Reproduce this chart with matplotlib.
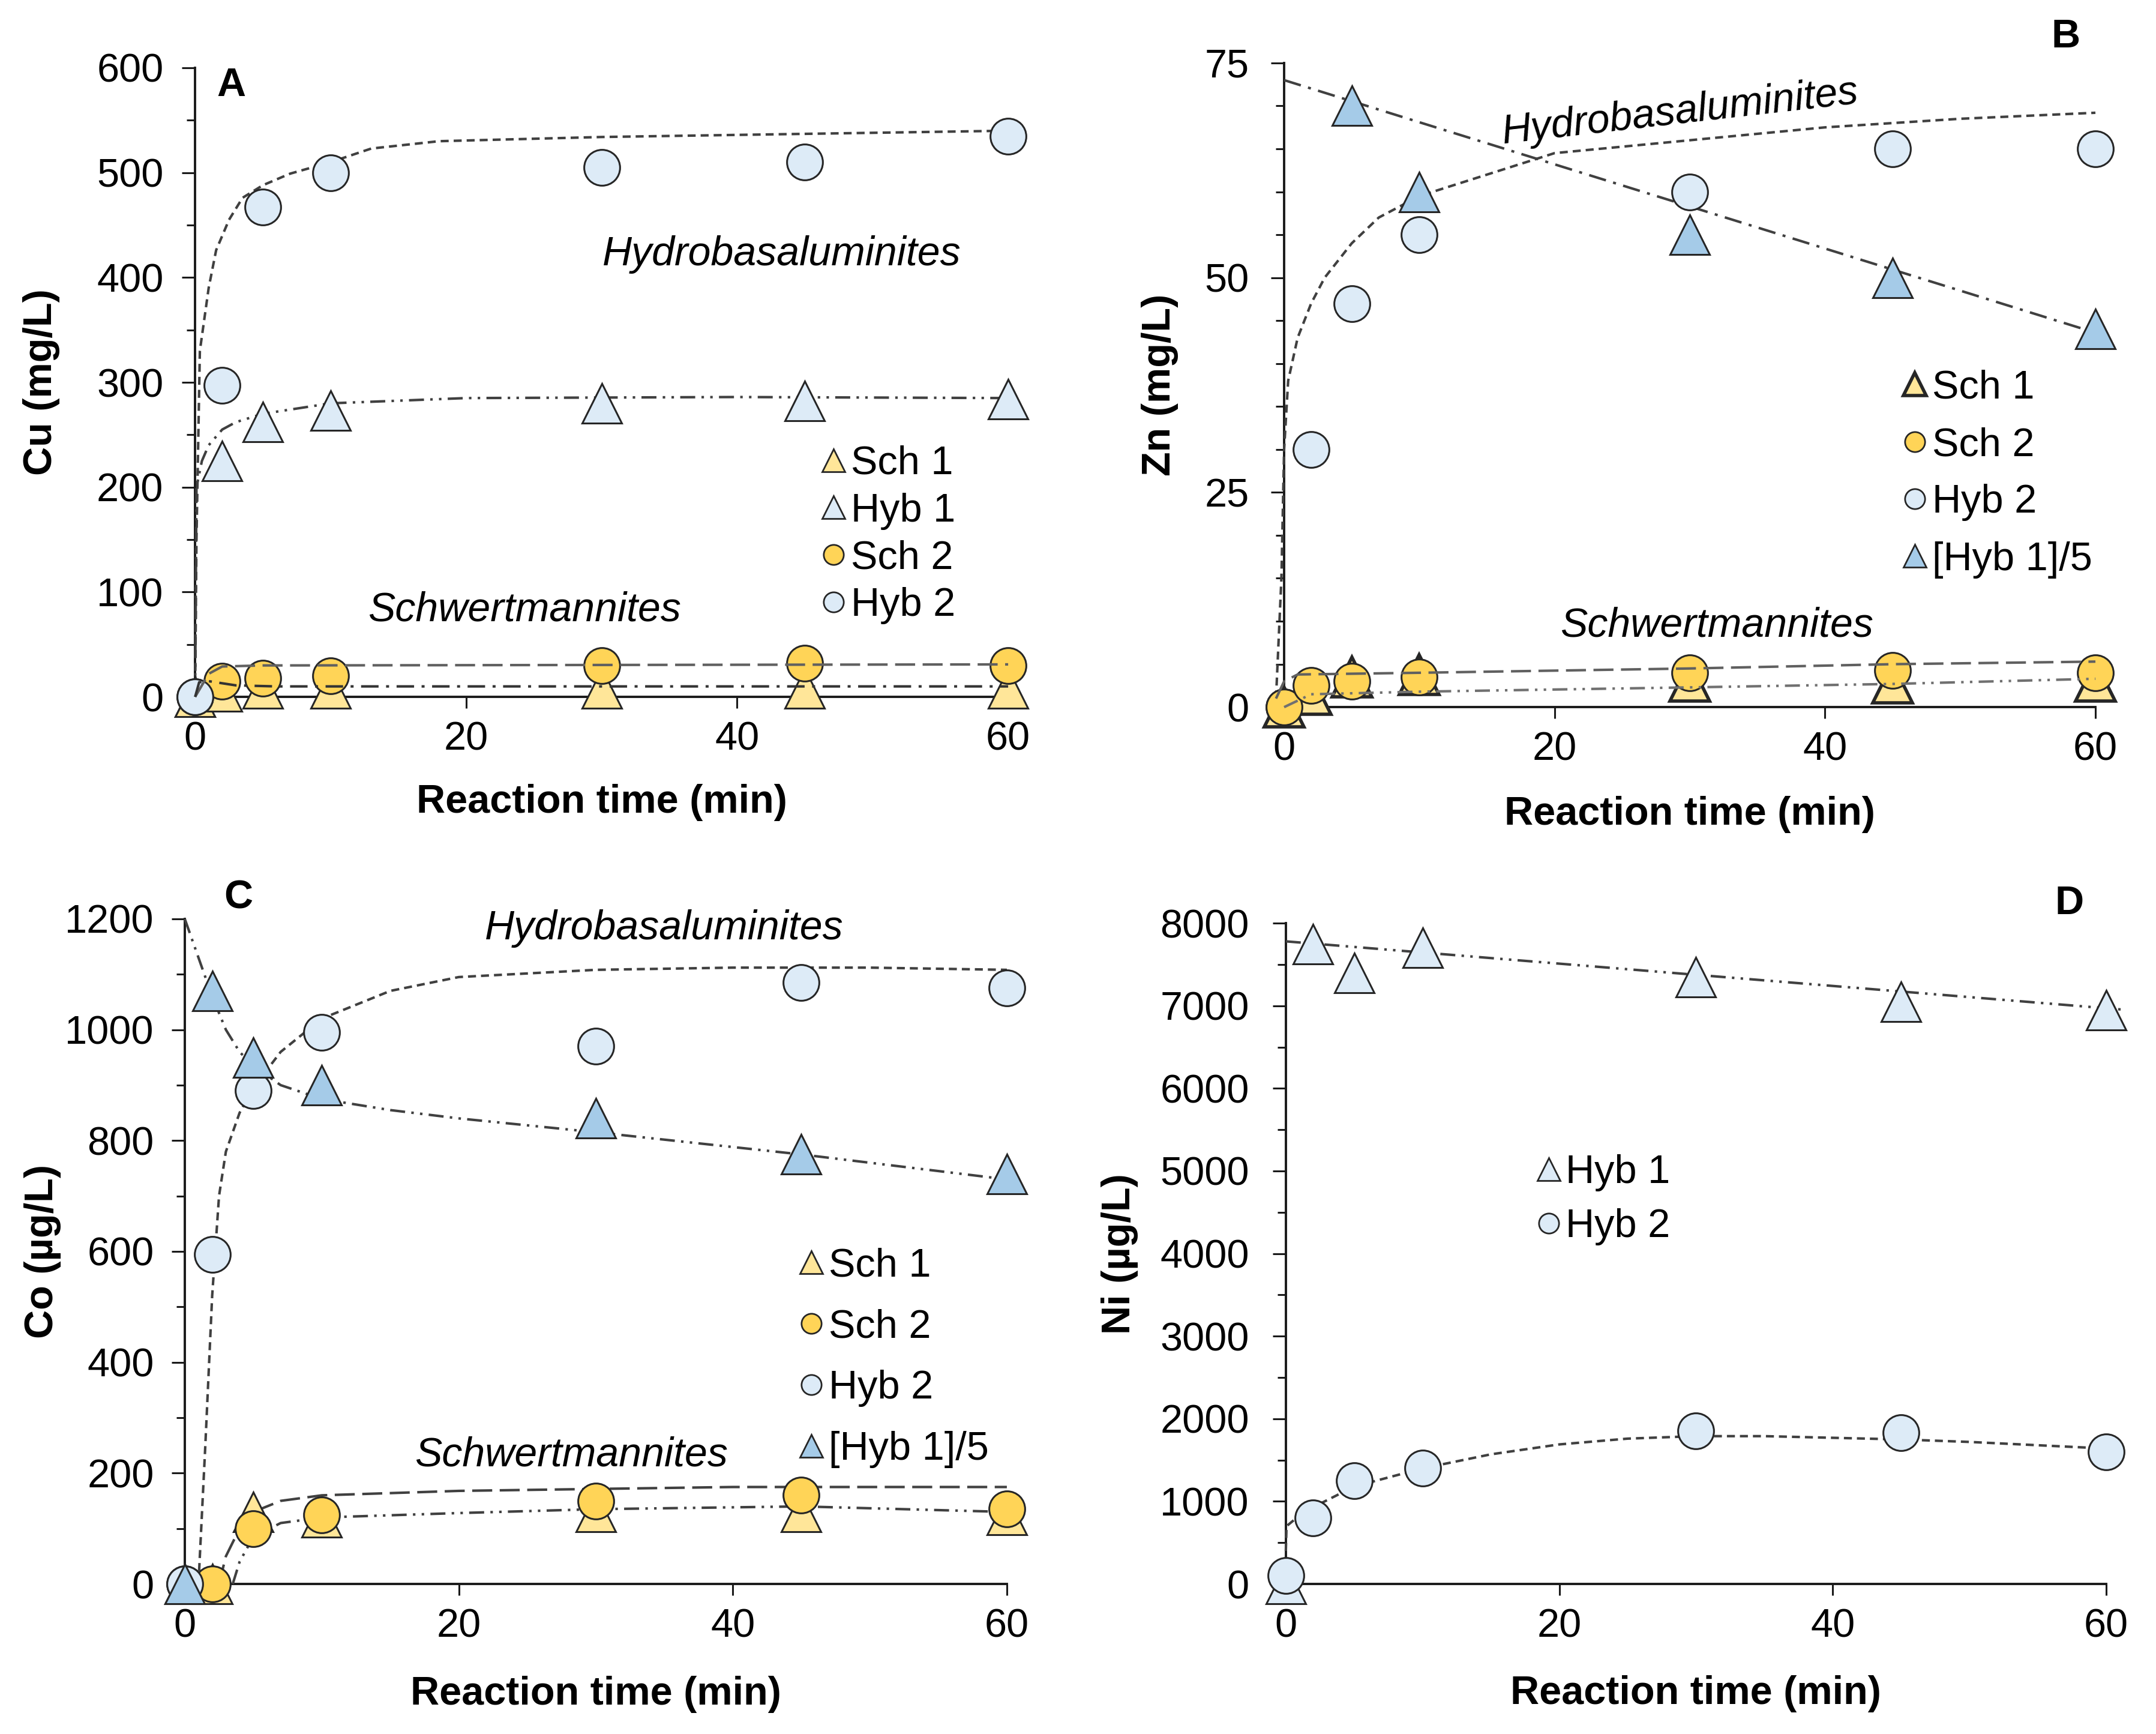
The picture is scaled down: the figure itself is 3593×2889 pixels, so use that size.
import numpy as np
import matplotlib
matplotlib.use("Agg")
import matplotlib.pyplot as plt
from matplotlib.lines import Line2D
from matplotlib.ticker import MultipleLocator

plt.rcParams['font.family'] = ['Liberation Sans', 'DejaVu Sans']

# sampling times (min)
time = [0, 2, 5, 10, 30, 45, 60]

# --- A: Cu (mg/L) ---
cu_sch1 = [0, 5, 8, 8, 8, 8, 8]
cu_hyb1 = [0, 225, 262, 273, 280, 282, 284]
cu_sch2 = [0, 15, 18, 20, 30, 32, 30]
cu_hyb2 = [0, 297, 467, 500, 505, 510, 535]
# trend lines
cu_hyb2_fit_t = [0, 0.1, 0.35, 1, 1.55, 2.5, 3.5, 5, 7, 10, 13, 18, 30, 45, 60]
cu_hyb2_fit = [0, 150, 330, 390, 426, 455, 476, 488, 499, 510, 523, 530, 534, 537, 540]
cu_hyb1_fit_t = [0, 0.1, 0.5, 1, 2, 3, 5, 10, 20, 40, 60]
cu_hyb1_fit = [0, 200, 225, 240, 255, 262, 270, 280, 285, 286, 285]
cu_sch2_fit_t = [0, 1, 2, 5, 60]
cu_sch2_fit = [0, 22, 29, 30, 31]
cu_sch1_fit_t = [0, 0.3, 1, 3, 6, 60]
cu_sch1_fit = [0, 14, 15, 11, 10, 10]

# --- B: Zn (mg/L) ---
zn_sch1 = [0, 1.5, 3.5, 3.8, 3.0, 2.8, 3.0]
zn_sch2 = [0, 2.5, 3.0, 3.5, 4.0, 4.3, 4.0]
zn_hyb2 = [0, 30, 47, 55, 60, 65, 65]
zn_hyb1_5 = [0, np.nan, 70, 60, 55, 50, 44]
zn_hyb1_fit_t = [0, 61]
zn_hyb1_fit = [73, 43.1]
zn_hyb2_fit_t = [-0.6, -0.2, 0, 0.3, 1, 2, 3, 5, 7, 10, 15, 20, 30, 40, 50, 60]
zn_hyb2_fit = [1, 15, 30, 38, 43, 47, 50, 54, 57, 59.5, 62, 64.5, 66, 67.5, 68.5, 69.2]
zn_sch2_fit_t = [-0.6, 0, 1, 10, 30, 45, 60]
zn_sch2_fit = [1, 3, 3.8, 4, 4.5, 5, 5.3]
zn_sch1_fit_t = [0, 2, 10, 30, 45, 60]
zn_sch1_fit = [0, 1.5, 1.8, 2.3, 2.7, 3.3]

# --- C: Co (ug/L) ---
co_sch1 = [0, 0, 130, 120, 130, 130, 125]
co_sch2 = [0, 0, 100, 125, 150, 160, 135]
co_hyb2 = [0, 595, 890, 995, 970, 1085, 1075]
co_hyb1_5 = [0, 1070, 950, 900, 840, 775, 740]
co_hyb1_fit_t = [0, 1, 2, 3, 4, 5, 7, 10, 15, 20, 30, 45, 60]
co_hyb1_fit = [1200, 1130, 1060, 1000, 960, 935, 900, 875, 855, 840, 815, 775, 730]
co_hyb2_fit_t = [1, 1.5, 2, 2.5, 3, 4, 5, 7, 10, 15, 20, 30, 40, 50, 60]
co_hyb2_fit = [0, 250, 520, 700, 780, 850, 895, 960, 1020, 1070, 1095, 1108, 1112, 1112, 1108]
co_sch2_fit_t = [2.5, 3, 4, 5, 7, 10, 20, 40, 60]
co_sch2_fit = [0, 50, 100, 130, 150, 160, 168, 175, 175]
co_sch1_fit_t = [3.5, 4, 5, 7, 10, 20, 30, 45, 60]
co_sch1_fit = [0, 40, 85, 110, 120, 128, 135, 140, 130]

# --- D: Ni (ug/L) ---
ni_hyb1 = [0, 7750, 7400, 7700, 7350, 7050, 6950]
ni_hyb2 = [100, 800, 1250, 1400, 1850, 1830, 1600]
ni_hyb1_fit_t = [0, 61.5]
ni_hyb1_fit = [7780, 6950]
ni_hyb2_fit_t = [0, 0.05, 1, 2, 5, 10, 15, 20, 25, 30, 35, 40, 45, 50, 60]
ni_hyb2_fit = [400, 700, 830, 930, 1180, 1400, 1570, 1690, 1760, 1790, 1790, 1770, 1750, 1720, 1640]

SCH1 = '#FFE699'
SCH2 = '#FFD457'
HYB = '#DDEBF7'
HYB5 = '#A5CBE8'
EDGE = '#262626'

SHORT = (0, (3.2, 2))
LONG = (0, (8, 3))
DASHDOT = (0, (7, 3, 1.2, 3))
DASHDOTDOT = (0, (6, 2.5, 1, 2.5, 1, 2.5))

FS = 48


def pts(ax, y, marker, face, size=43, mew=2.2, z=5):
    ax.plot(time, y, ls='none', marker=marker, ms=size, mfc=face, mec=EDGE,
            mew=mew, zorder=z, clip_on=False)


def fit(ax, t, y, ls, color='#404040', lw=3, z=4):
    ax.plot(t, y, ls=ls, color=color, lw=lw, zorder=z, clip_on=False)


def style(ax, ymax, major, minor, ylabel, ylab_x, ypad):
    ax.set_xlim(0, 60)
    ax.set_ylim(0, ymax)
    ax.xaxis.set_major_locator(MultipleLocator(20))
    ax.yaxis.set_major_locator(MultipleLocator(major))
    ax.yaxis.set_minor_locator(MultipleLocator(minor))
    for s in ['top', 'right']:
        ax.spines[s].set_visible(False)
    for s in ['left', 'bottom']:
        ax.spines[s].set_linewidth(2.8)
        ax.spines[s].set_color('#1a1a1a')
    ax.tick_params(axis='y', which='major', length=16, width=2.2, pad=ypad,
                   labelsize=FS, color='#1a1a1a')
    ax.tick_params(axis='y', which='minor', length=10, width=2.2, color='#1a1a1a')
    ax.tick_params(axis='x', which='major', length=14, width=2.2, pad=15,
                   labelsize=FS, color='#1a1a1a')
    ax.set_xlabel('Reaction time (min)', fontsize=FS, fontweight='bold')
    ax.xaxis.set_label_coords(0.5, -0.138)
    ax.set_ylabel(ylabel, fontsize=FS, fontweight='bold')
    ax.yaxis.set_label_coords(ylab_x, 0.5)


def legend(ax, entries, anchor, spacing):
    handles = []
    labels = []
    for lab, marker, face, mew in entries:
        size = 28 if marker == '^' else 24
        handles.append(Line2D([], [], ls='none', marker=marker, ms=size, mfc=face,
                              mec=EDGE, mew=mew))
        labels.append(lab)
    ax.legend(handles, labels, loc='upper left', bbox_to_anchor=anchor, frameon=False,
              borderpad=0, borderaxespad=0, handlelength=0.55, handletextpad=0.15,
              labelspacing=spacing, fontsize=48)


fig = plt.figure(figsize=(35.93, 28.89), dpi=100)
axA = fig.add_axes([0.0905, 0.5981, 0.3771, 0.3628])
axB = fig.add_axes([0.5956, 0.5922, 0.3763, 0.3715])
axC = fig.add_axes([0.0857, 0.0865, 0.3813, 0.3836])
axD = fig.add_axes([0.5964, 0.0865, 0.3805, 0.3811])

# ---- A ----
fit(axA, cu_hyb2_fit_t, cu_hyb2_fit, SHORT, z=3)
fit(axA, cu_hyb1_fit_t, cu_hyb1_fit, DASHDOTDOT, z=3)
pts(axA, cu_hyb1, '^', HYB, size=47)
pts(axA, cu_sch1, '^', SCH1, size=47)
pts(axA, cu_sch2, 'o', SCH2)
pts(axA, cu_hyb2, 'o', HYB)
fit(axA, cu_sch2_fit_t, cu_sch2_fit, LONG, color='#606060', z=7)
fit(axA, cu_sch1_fit_t, cu_sch1_fit, DASHDOT, color='#333333', z=7)
style(axA, 600, 100, 50, 'Cu (mg/L)', -0.166, 22)
axA.text(2.66, 583, 'A', fontsize=FS, fontweight='bold', ha='center', va='center')
axA.text(43.3, 422, 'Hydrobasaluminites', fontsize=49, style='italic',
         ha='center', va='center')
axA.text(24.3, 83, 'Schwertmannites', fontsize=49, style='italic',
         ha='center', va='center')
legend(axA, [('Sch 1', '^', SCH1, 2.0), ('Hyb 1', '^', HYB, 2.0),
             ('Sch 2', 'o', SCH2, 2.0), ('Hyb 2', 'o', HYB, 2.0)],
       (0.772, 0.40), 0.25)

# ---- B ----
fit(axB, zn_hyb1_fit_t, zn_hyb1_fit, DASHDOT, z=3)
fit(axB, zn_hyb2_fit_t, zn_hyb2_fit, SHORT, z=3)
pts(axB, zn_hyb2, 'o', HYB)
pts(axB, zn_hyb1_5, '^', HYB5, size=47)
pts(axB, zn_sch1, '^', SCH1, size=47, mew=4)
pts(axB, zn_sch2, 'o', SCH2)
fit(axB, zn_sch2_fit_t, zn_sch2_fit, LONG, color='#606060', z=7)
fit(axB, zn_sch1_fit_t, zn_sch1_fit, DASHDOTDOT, color='#707070', z=7)
style(axB, 75, 25, 5, 'Zn (mg/L)', -0.130, 26)
axB.text(57.8, 78.0, 'B', fontsize=FS, fontweight='bold', ha='center', va='center')
axB.text(29.3, 69.2, 'Hydrobasaluminites', fontsize=49, style='italic',
         ha='center', va='center', rotation=6.5)
axB.text(32.0, 9.5, 'Schwertmannites', fontsize=49, style='italic',
         ha='center', va='center')
legend(axB, [('Sch 1', '^', SCH1, 4.0), ('Sch 2', 'o', SCH2, 2.0),
             ('Hyb 2', 'o', HYB, 2.0), ('[Hyb 1]/5', '^', HYB5, 2.0)],
       (0.764, 0.524), 0.5)

# ---- C ----
fit(axC, co_hyb1_fit_t, co_hyb1_fit, DASHDOTDOT, z=3)
fit(axC, co_hyb2_fit_t, co_hyb2_fit, SHORT, z=3)
fit(axC, co_sch2_fit_t, co_sch2_fit, LONG, z=3)
fit(axC, co_sch1_fit_t, co_sch1_fit, DASHDOTDOT, z=3)
pts(axC, co_sch1, '^', SCH1, size=47)
pts(axC, co_sch2, 'o', SCH2)
pts(axC, co_hyb2, 'o', HYB)
pts(axC, co_hyb1_5, '^', HYB5, size=47)
style(axC, 1200, 200, 100, 'Co (\u00b5g/L)', -0.150, 21)
axC.text(3.9, 1237, 'C', fontsize=FS, fontweight='bold', ha='center', va='center')
axC.text(35.0, 1183, 'Hydrobasaluminites', fontsize=49, style='italic',
         ha='center', va='center')
axC.text(28.2, 232, 'Schwertmannites', fontsize=49, style='italic',
         ha='center', va='center')
legend(axC, [('Sch 1', '^', SCH1, 2.0), ('Sch 2', 'o', SCH2, 2.0),
             ('Hyb 2', 'o', HYB, 2.0), ('[Hyb 1]/5', '^', HYB5, 2.0)],
       (0.749, 0.506), 0.6)

# ---- D ----
fit(axD, ni_hyb1_fit_t, ni_hyb1_fit, DASHDOTDOT, z=3)
fit(axD, ni_hyb2_fit_t, ni_hyb2_fit, SHORT, z=3)
pts(axD, ni_hyb1, '^', HYB, size=47)
pts(axD, ni_hyb2, 'o', HYB)
style(axD, 8000, 1000, 500, 'Ni (\u00b5g/L)', -0.18, 28)
axD.text(57.3, 8233, 'D', fontsize=FS, fontweight='bold', ha='center', va='center')
legend(axD, [('Hyb 1', '^', HYB, 2.0), ('Hyb 2', 'o', HYB, 2.0)],
       (0.307, 0.65), 0.42)

fig.savefig('out.png', dpi=100)
